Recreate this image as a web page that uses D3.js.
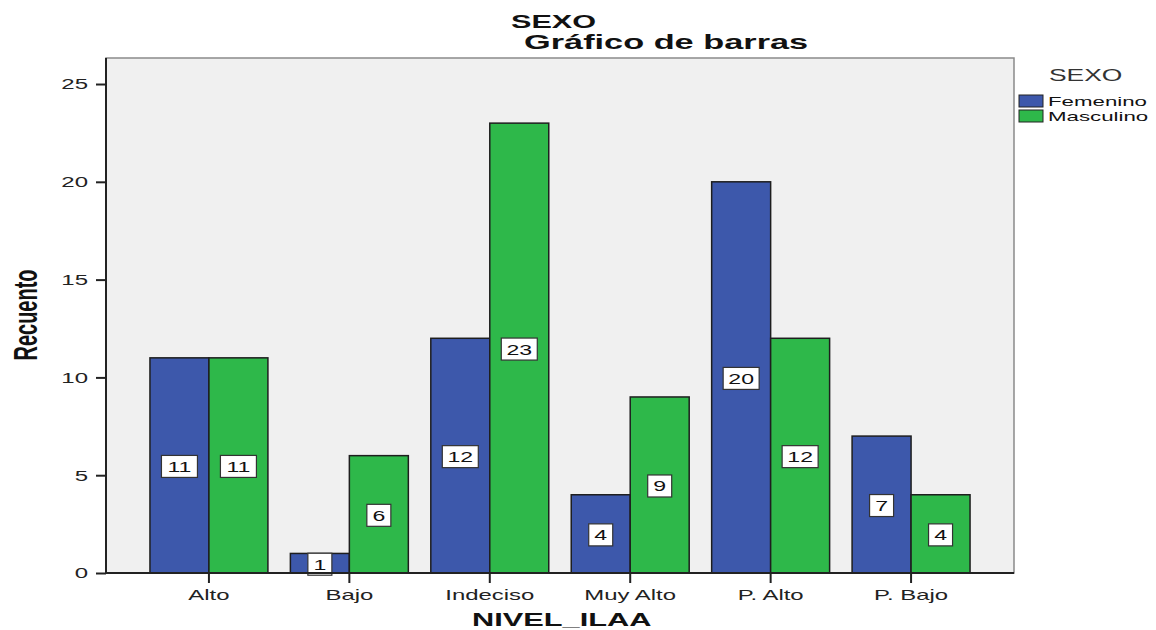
<!DOCTYPE html>
<html><head><meta charset="utf-8">
<script src="https://cdn.jsdelivr.net/npm/d3@7"></script>
<style>body{margin:0;background:#fff;} text{font-family:"Liberation Sans",Arial,sans-serif;}</style>
</head><body>
<svg id="c" width="1156" height="630"></svg>
<script>
const categories = ["Alto","Bajo","Indeciso","Muy Alto","P. Alto","P. Bajo"];
const seriesNames = ["Femenino","Masculino"];
const femenino = [11,1,12,4,20,7];
const masculino = [11,6,23,9,12,4];
const yTicks = [0,5,10,15,20,25];
const colors = ["#3d58ab","#2eb84a"];

const SX = 1.65; // horizontal stretch of the reference's text
const svg = d3.select("#c");
const L=106, R=1014, T=58, B=573;
const y = d3.scaleLinear().domain([0,26.33]).range([B,T]);
const x = d3.scaleBand().domain(categories).range([L,R]).paddingInner(0.16).paddingOuter(0.313);
const xs = d3.scaleBand().domain(seriesNames).range([0,x.bandwidth()]);

function txt(g, tx, ty, s, size, opts={}){
  const t = g.append("text").attr("transform",`translate(${tx},${ty}) scale(${opts.sx||SX},1)`)
    .attr("font-size",size).attr("fill",opts.fill||"#111").text(s);
  if(opts.bold) t.attr("font-weight","bold");
  if(opts.anchor) t.attr("text-anchor",opts.anchor);
  return t;
}

svg.append("rect").attr("x",L).attr("y",T).attr("width",R-L).attr("height",B-T)
  .attr("fill","#f0f0f0").attr("stroke","#8a8a8a").attr("stroke-width",1.5);

const series = [femenino, masculino];
const data = [];
categories.forEach((c,i)=>seriesNames.forEach((s,j)=>data.push({c,s,v:series[j][i],j})));

svg.append("g").selectAll("rect").data(data).join("rect")
  .attr("x",d=>x(d.c)+xs(d.s)).attr("width",xs.bandwidth())
  .attr("y",d=>y(d.v)).attr("height",d=>B-y(d.v))
  .attr("fill",d=>colors[d.j]).attr("stroke","#1e1e1e").attr("stroke-width",1.5);

// labels
const lg = svg.append("g");
data.forEach(d=>{
  const cx = x(d.c)+xs(d.s)+xs.bandwidth()/2;
  const cy = y(d.v/2)+1;
  const w = String(d.v).length>1 ? 36 : 24;
  lg.append("rect").attr("x",cx-w/2).attr("y",cy-11).attr("width",w).attr("height",22)
    .attr("fill","#fff").attr("stroke","#333").attr("stroke-width",1.2);
  txt(lg, cx, cy+5.5, d.v, 14, {anchor:"middle"});
});

// axes
const ya = svg.append("g").attr("transform",`translate(${L},0)`)
  .call(d3.axisLeft(y).tickValues(yTicks).tickSize(10).tickPadding(8));
ya.select(".domain").attr("stroke","#222").attr("stroke-width",2).attr("d",`M0,${B}V${T}`);
ya.selectAll(".tick line").attr("stroke","#222").attr("stroke-width",2);
ya.selectAll(".tick text").attr("font-size",15).attr("fill","#222").attr("font-family","Liberation Sans, Arial")
  .attr("x",-18/1.6).attr("transform","scale(1.6,1)");

const xa = svg.append("g").attr("transform",`translate(0,${B})`)
  .call(d3.axisBottom(x).tickSize(10).tickPadding(7).tickSizeOuter(0));
xa.select(".domain").attr("stroke","#222").attr("stroke-width",2).attr("d",`M${L},0H${R}`);
xa.selectAll(".tick line").attr("stroke","#222").attr("stroke-width",2);
xa.selectAll(".tick text").attr("font-size",14.5).attr("fill","#222").attr("font-family","Liberation Sans, Arial")
  .attr("transform",`scale(${SX},1)`);

// titles
txt(svg, 511, 28, "SEXO", 17.5, {bold:true, sx:1.75});
txt(svg, 524, 49, "Gráfico de barras", 19.5, {bold:true, sx:1.76});
txt(svg, 472, 626, "NIVEL_ILAA", 19, {bold:true, sx:1.62});
svg.append("text").attr("transform","translate(37,315) scale(1.65,1) rotate(-90)").attr("text-anchor","middle")
  .attr("font-size",20).attr("font-weight","bold").attr("fill","#111").text("Recuento");

// legend
txt(svg, 1049, 81, "SEXO", 16.5, {fill:"#333", sx:1.6});
seriesNames.forEach((s,i)=>{
  svg.append("rect").attr("x",1019).attr("y",95+i*15).attr("width",24).attr("height",12)
    .attr("fill",colors[i]).attr("stroke","#222").attr("stroke-width",1);
  txt(svg, 1048, 106+i*15, s, 13.5, {sx:1.65});
});
</script>
</body></html>
